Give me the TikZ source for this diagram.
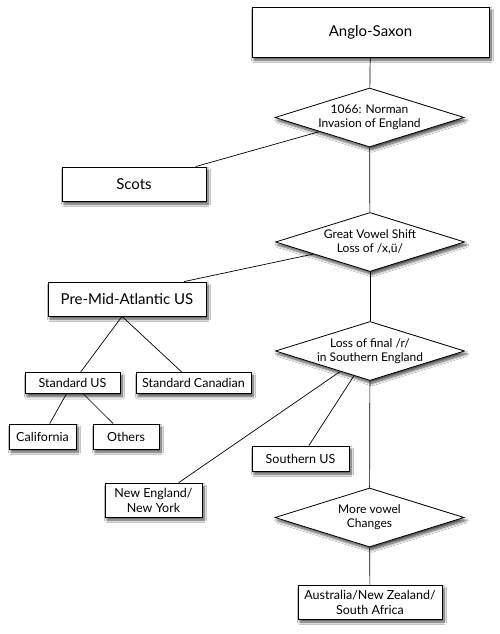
\documentclass[tikz,border=0pt]{standalone}
\usepackage{fontspec}
\setmainfont{Lato}
\usetikzlibrary{shapes.geometric,shadows.blur}

\begin{document}
\begin{tikzpicture}[x=1pt,y=-1pt,
  box/.style={draw,fill=white,line width=0.8pt,inner sep=0pt,align=center,
    blur shadow={shadow xshift=2pt,shadow yshift=-3pt,shadow blur radius=2.5pt,shadow blur steps=8,shadow opacity=70}},
  bigbox/.style={box,font=\fontsize{15}{17}\selectfont},
  smallbox/.style={box,font=\fontsize{12.5}{15}\selectfont},
  event/.style={diamond,box,aspect=3.2,font=\fontsize{12}{14}\selectfont,
    minimum width=189pt,minimum height=59pt},
  link/.style={line width=0.7pt}]
  \fill[white] (0,0) rectangle (500,634);
  \useasboundingbox (0,0) rectangle (500,634);

  \node[bigbox,minimum width=237pt,minimum height=50pt] (anglo) at (370.5,32) {Anglo-Saxon};
  \node[event] (norman) at (369.5,117.5) {1066: Norman\\Invasion of England};
  \node[bigbox,minimum width=144pt,minimum height=34pt] (scots) at (134,184) {Scots};
  \node[event] (vowel) at (370,242) {Great Vowel Shift\\Loss of /x,ü/};
  \node[bigbox,minimum width=158pt,minimum height=34pt] (premid) at (127,299) {Pre-Mid-Atlantic US};
  \node[event] (lossr) at (370,351) {Loss of final /r/\\in Southern England};

  \node[smallbox,minimum width=95pt,minimum height=21pt] (stdus) at (72.5,383) {Standard US};
  \node[smallbox,minimum width=115pt,minimum height=21pt] (stdcan) at (193.5,383) {Standard Canadian};
  \node[smallbox,minimum width=67pt,minimum height=25pt] (calif) at (42.5,436.5) {California};
  \node[smallbox,minimum width=66pt,minimum height=25pt] (others) at (126,436.5) {Others};
  \node[smallbox,minimum width=97pt,minimum height=34pt] (neweng) at (153.5,500) {New England/\\New York};
  \node[smallbox,minimum width=97pt,minimum height=25pt] (southus) at (300.5,458.5) {Southern US};
  \node[event] (morevowel) at (369.5,517.5) {More vowel\\Changes};
  \node[smallbox,minimum width=144pt,minimum height=34pt] (austral) at (370,602) {Australia/New Zealand/\\South Africa};

  \draw[link] (anglo) -- (norman);
  \draw[link] (norman) -- (scots);
  \draw[link] (norman) -- (vowel);
  \draw[link] (vowel) -- (premid.17);
  \draw[link] (vowel) -- (lossr);
  \draw[link] ([xshift=-5pt]premid.south) -- (stdus);
  \draw[link] ([xshift=-5pt]premid.south) -- (stdcan);
  \draw[link] (stdus) -- (calif);
  \draw[link] (stdus) -- (others);
  \draw[link] (lossr) -- (neweng);
  \draw[link] (lossr) -- (southus);
  \draw[link] (lossr) -- (morevowel);
  \draw[link] (morevowel) -- (austral);
\end{tikzpicture}
\end{document}
